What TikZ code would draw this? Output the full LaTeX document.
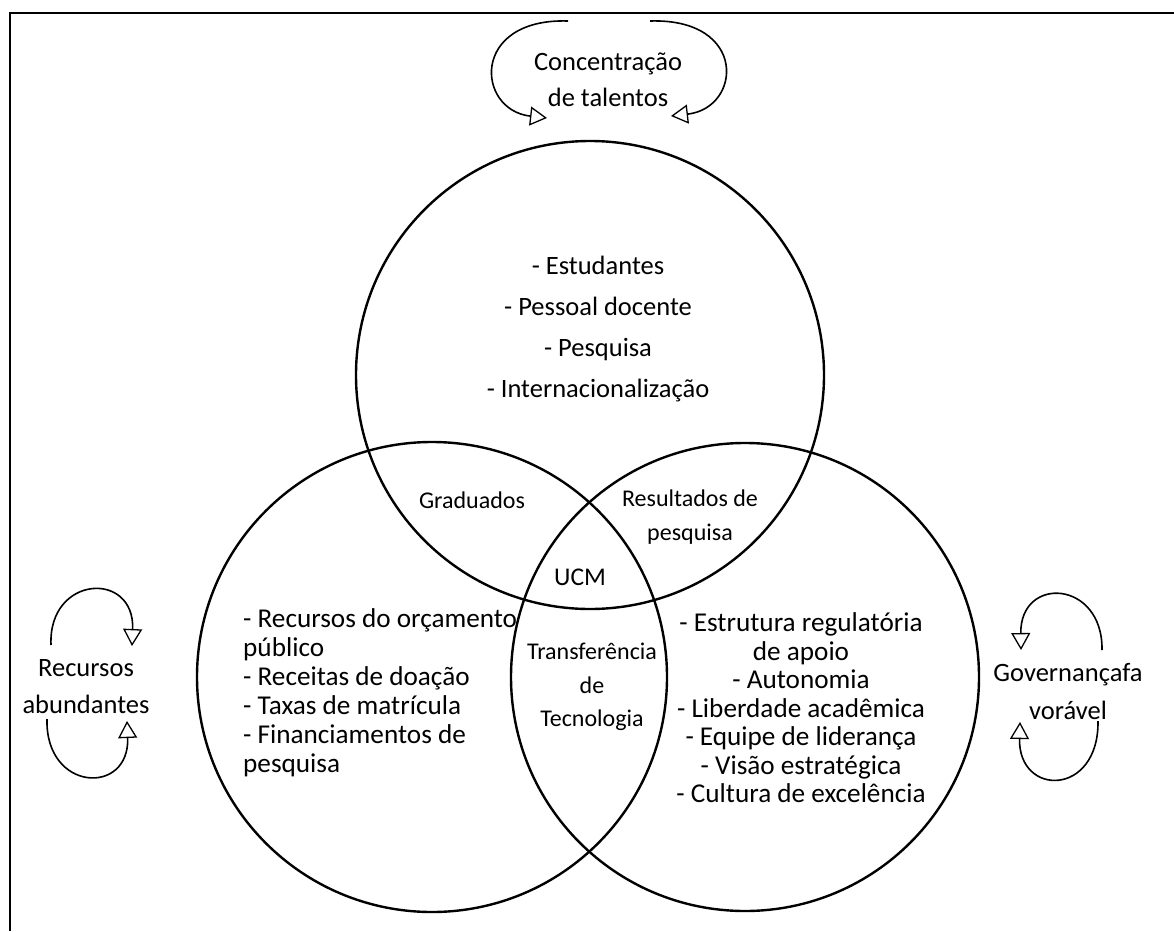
\documentclass[tikz,border=0pt]{standalone}
\usepackage{fontspec}
\setmainfont{Carlito}
\usetikzlibrary{arrows.meta}
\begin{document}
\begin{tikzpicture}[x=1pt,y=-1pt,
  ring/.style={draw, circle, line width=2.4pt, inner sep=0pt, minimum size=#1},
  lbl/.style={font=\fontsize{26.5pt}{#1}\selectfont, align=center, inner sep=0pt},
  list/.style={font=\fontsize{27.2pt}{#1}\selectfont, align=center, inner sep=0pt},
  slbl/.style={font=\fontsize{24pt}{#1}\selectfont, align=center, inner sep=0pt},
  loop/.style={line width=1.6pt, -{Triangle[open, length=17pt, width=19pt, line width=1.3pt]}}]
\useasboundingbox (0,0) rectangle (1174,931);
% frame
\draw[line width=2pt] (10,931) -- (10,13) -- (1174,13);
% circles
\node[ring=468pt] (ctop) at (590,375) {};
\node[ring=470pt] (cleft) at (432,677) {};
\node[ring=468pt] (cright) at (745,677) {};
% circle texts
\node[lbl=40.7pt] (ltop) at (598,329) {- Estudantes\\- Pessoal docente\\- Pesquisa\\- Internacionalização};
\node[list=29pt, align=left, anchor=west] (lleft) at (243,693) {- Recursos do orçamento\\público\\- Receitas de doação\\- Taxas de matrícula\\- Financiamentos de\\pesquisa};
\node[list=28.5pt] (lright) at (801,708) {- Estrutura regulatória\\de apoio\\- Autonomia\\- Liberdade acadêmica\\- Equipe de liderança\\- Visão estratégica\\- Cultura de excelência};
\node[slbl=29pt] (grad) at (472,500) {Graduados};
\node[slbl=34pt] (res) at (690,517) {Resultados de\\pesquisa};
\node[lbl=29pt, font=\fontsize{25.5pt}{29pt}\selectfont] (ucm) at (580,577) {UCM};
\node[slbl=33.5pt] (tt) at (592,687) {Transferência\\de\\Tecnologia};
% outer labels
\node[lbl=36pt] (conc) at (608,80) {Concentração\\de talentos};
\node[lbl=37pt] (rec) at (86,687) {Recursos\\abundantes};
\node[lbl=38pt] (gov) at (1068,692) {Governançafa\\vorável};
% loop end points
\coordinate (c1s) at (568,21);
\coordinate (c1e) at (547,118);
\coordinate (c2s) at (650,21);
\coordinate (c2e) at (671,116);
\coordinate (r1s) at (51,645);
\coordinate (r1e) at (132,646);
\coordinate (r2s) at (47,719);
\coordinate (r2e) at (127,721);
\coordinate (g1s) at (1102,650);
\coordinate (g1e) at (1021,650);
\coordinate (g2s) at (1098,721);
\coordinate (g2e) at (1020,722);
% loops
\draw[loop] (c1s) .. controls (470,18) and (476,110) .. (c1e);
\draw[loop] (c2s) .. controls (748,18) and (742,108) .. (c2e);
\draw[loop] (r1s) .. controls (48,575) and (135,570) .. (r1e);
\draw[loop] (r2s) .. controls (45,792) and (130,796) .. (r2e);
\draw[loop] (g1s) .. controls (1103,580) and (1020,575) .. (g1e);
\draw[loop] (g2s) .. controls (1099,797) and (1018,797) .. (g2e);
\end{tikzpicture}
\end{document}
